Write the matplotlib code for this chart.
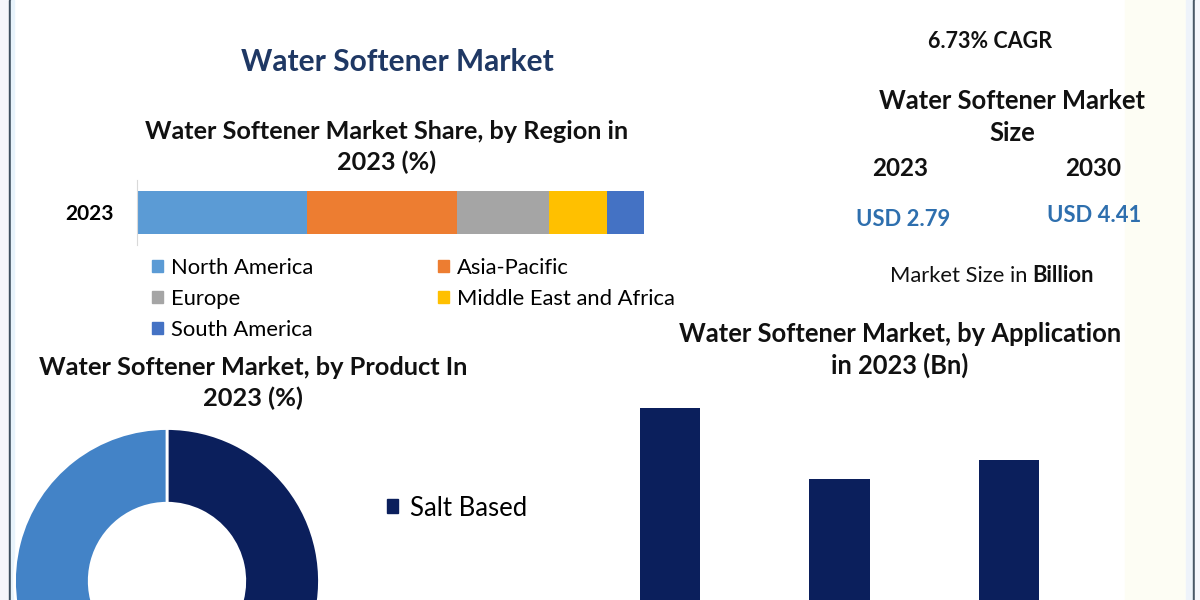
import numpy as np
import matplotlib.pyplot as plt
from matplotlib.patches import Rectangle, Patch

plt.rcParams['font.family'] = ['Lato', 'DejaVu Sans']

# region share in 2023 (%)
regions = ["North America", "Asia-Pacific", "Europe", "Middle East and Africa", "South America"]
region_share = [33.5, 29.6, 18.2, 11.4, 7.3]
region_colors = ["#5b9bd5", "#ed7d31", "#a5a5a5", "#ffc000", "#4472c4"]

# product split in 2023 (%)
products = ["Salt Based", "Salt Free"]
product_share = [58, 42]
product_colors = ["#0b1f5c", "#4383c7"]

# application in 2023 (Bn)
applications = ["Residential", "Commercial", "Industrial"]
app_values = [1.12, 0.79, 0.88]

size_years = ["2023", "2030"]
size_values = ["USD 2.79", "USD 4.41"]
cagr = "6.73% CAGR"

W, H = 1200, 600
fig = plt.figure(figsize=(12, 6), dpi=100)
fig.patch.set_facecolor("white")


def box(x, y, w, h):
    # pixel box (top-left origin) -> figure fraction
    return [x / W, 1 - (y + h) / H, w / W, h / H]


def fx(x):
    return x / W


def fy(y):
    return 1 - y / H


def strip(x0, w, col):
    fig.patches.append(Rectangle((fx(x0), 0), fx(w), 1, transform=fig.transFigure,
                                 color=col, zorder=-5))


# frame decoration
strip(0, 9, "#f6f6fb")
strip(9, 2, "#3e4f5f")
strip(11, 3, "#e8f3fb")
strip(1125, 61, "#fdfdf4")
strip(1186, 7, "#eef3fa")
strip(1193, 2, "#4a5866")
strip(1195, 5, "#f6f6fb")

# titles
fig.text(fx(397), fy(62), "Water Softener Market", ha="center", va="center",
         fontsize=21.5, fontweight="bold", color="#1f3864")
fig.text(fx(387), fy(147), "Water Softener Market Share, by Region in\n2023 (%)", ha="center", va="center",
         fontsize=18.2, fontweight="bold", color="#111111", linespacing=1.35)

# stacked region bar
ax1 = fig.add_axes(box(137, 180, 507, 65))
left = 0
for name, val, col in zip(regions, region_share, region_colors):
    ax1.barh(0, val, left=left, height=0.66, color=col, label=name)
    left += val
ax1.set_xlim(0, sum(region_share))
ax1.set_ylim(-0.5, 0.5)
ax1.set_yticks([0])
ax1.set_yticklabels(["2023"], fontsize=15, fontweight="bold")
ax1.tick_params(axis="y", length=0, pad=16.5)
ax1.set_xticks([])
for s in ["top", "right", "bottom"]:
    ax1.spines[s].set_visible(False)
ax1.spines["left"].set_color("#d9d9d9")
ax1.patch.set_alpha(0)

order = [0, 2, 4, 1, 3]
handles = [Patch(color=region_colors[i]) for i in order]
labels = [regions[i] for i in order]
fig.legend(handles, labels, ncol=2, loc="upper left", bbox_to_anchor=(fx(141), fy(247)),
           frameon=False, fontsize=15.8, handlelength=0.5, handleheight=0.5, handletextpad=0.35,
           columnspacing=5.7, labelspacing=0.5, borderpad=0)

# market size panel
fig.text(fx(990), fy(42), cagr, ha="center", va="center", fontsize=15.5, fontweight="bold", color="#111111")
fig.text(fx(1012), fy(117), "Water Softener Market\nSize", ha="center", va="center",
         fontsize=18.4, fontweight="bold", color="#111111", linespacing=1.4)
for xp, yr in zip([900, 1093], size_years):
    fig.text(fx(xp), fy(168), yr, ha="center", va="center", fontsize=17.5, fontweight="bold", color="#111111")
for xp, yp, v in zip([903, 1094], [219, 215], size_values):
    fig.text(fx(xp), fy(yp), v, ha="center", va="center", fontsize=15.8, fontweight="bold",
             color="#2e6fae")
fig.text(fx(1027), fy(276), "Market Size in", ha="right", va="center", fontsize=15.8, color="#111111")
fig.text(fx(1032), fy(276), "Billion", ha="left", va="center", fontsize=15.8, fontweight="bold",
         color="#111111")

# product donut
fig.text(fx(253), fy(383), "Water Softener Market, by Product In\n2023 (%)", ha="center", va="center",
         fontsize=18.3, fontweight="bold", color="#111111", linespacing=1.35)
ax2 = fig.add_axes(box(13, 427, 308, 308))
ax2.pie(product_share, colors=product_colors, startangle=90, counterclock=False,
        wedgeprops=dict(width=0.49, edgecolor="white", linewidth=2))
ax2.set_xlim(-1.01, 1.01)
ax2.set_ylim(-1.01, 1.01)
ax2.set_aspect("equal")
ax2.axis("off")
fig.legend([Patch(color=product_colors[0])], [products[0]], loc="center left",
           bbox_to_anchor=(fx(374), fy(508)), frameon=False, fontsize=18.5,
           handlelength=0.45, handleheight=0.45, handletextpad=0.45, borderpad=0)

# application bars
fig.text(fx(900), fy(350), "Water Softener Market, by Application\nin 2023 (Bn)", ha="center", va="center",
         fontsize=18.4, fontweight="bold", color="#111111", linespacing=1.35)
ax3 = fig.add_axes(box(585, 400, 509, 250))
ax3.bar(range(len(applications)), app_values, width=0.354, color="#0b1f5c")
ax3.set_xlim(-0.5, len(applications) - 0.5)
ax3.set_ylim(0, 1.157)
ax3.axis("off")

fig.savefig("out.png", dpi=100, facecolor=fig.get_facecolor())
